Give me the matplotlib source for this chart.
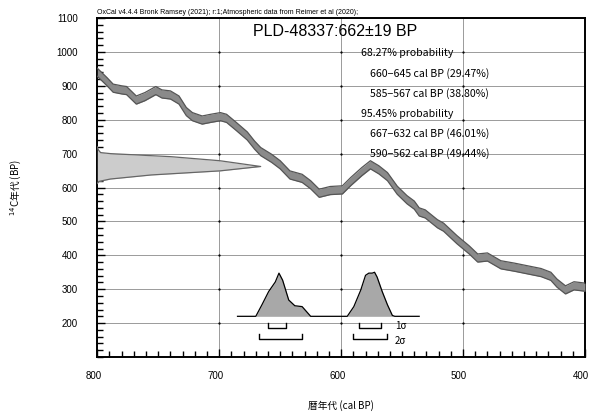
import matplotlib.pyplot as plt
import matplotlib.transforms as mtransforms
from matplotlib.ticker import MultipleLocator

# calibration curve (cal BP -> 14C BP)
curve_cal = [800, 792, 787, 780, 776, 768, 761, 752, 747, 740, 733, 727, 722, 714, 707,
             699, 694, 686, 677, 671, 666, 657, 650, 642, 632, 625, 618, 609, 599, 592,
             583, 576, 569, 562, 554, 546, 540, 536, 531, 521, 516, 505, 495, 488, 480,
             469, 458, 447, 436, 428, 423, 416, 409, 400]
curve_c14 = [940, 912, 893, 888, 886, 858, 868, 886, 876, 873, 858, 824, 809, 799, 804,
             809, 804, 780, 752, 725, 706, 686, 667, 637, 627, 608, 583, 591, 593, 618,
             647, 667, 652, 632, 592, 564, 548, 528, 522, 493, 483, 446, 416, 392, 395,
             372, 365, 357, 349, 338, 318, 298, 310, 306]
curve_err = 12

# radiocarbon date (14C BP) and relative density
r_c14 = [612, 618, 625, 637, 649, 662, 679, 691, 700, 703, 712, 720]
r_dens = [0, 0.01, 0.08, 0.33, 0.75, 1.0, 0.75, 0.45, 0.08, 0.02, 0.005, 0]

# calibrated distribution (cal BP) and relative density
p_cal = [685, 670, 665, 659.5, 654, 651, 648, 643, 638, 632, 628.5, 625,
         595, 589.6, 584, 580, 577.3, 574.5, 572.6, 570.5, 566.3, 562, 558, 556, 536]
p_dens = [0, 0, 0.26, 0.56, 0.78, 0.98, 0.82, 0.37, 0.24, 0.22, 0.11, 0,
          0, 0.22, 0.59, 0.93, 0.98, 0.98, 1.0, 0.89, 0.56, 0.26, 0.02, 0, 0]

sigma1 = [(660, 645), (585, 567)]
sigma2 = [(667, 632), (590, 562)]

title = "PLD-48337:662\u00b119 BP"
prob_heads = ["68.27% probability", "95.45% probability"]
prob_ranges = [["660\u2212645 cal BP (29.47%)", "585\u2212567 cal BP (38.80%)"],
               ["667\u2212632 cal BP (46.01%)", "590\u2212562 cal BP (49.44%)"]]

jp = ['Noto Sans CJK JP', 'DejaVu Sans']
plt.rcParams['font.family'] = ['Liberation Sans', 'DejaVu Sans']

fig = plt.figure(figsize=(5.89, 4.17), dpi=100)
ax = fig.add_axes([0.1652, 0.1439, 0.8280, 0.8129])

ax.set_xlim(800, 400)
ax.set_ylim(100, 1100)
ax.set_xticks([800, 700, 600, 500, 400])
ax.set_yticks(range(200, 1101, 100))
ax.xaxis.set_minor_locator(MultipleLocator(10))
ax.yaxis.set_minor_locator(MultipleLocator(20))
ax.tick_params(which='both', direction='in', labelsize=7, color='black')
ax.tick_params(which='major', length=6, width=1)
ax.tick_params(which='minor', length=4, width=1)
ax.tick_params(axis='y', pad=14)
ax.tick_params(axis='x', pad=10)
ax.grid(True, which='major', color='#9a9a9a', lw=0.7)
for s in ax.spines.values():
    s.set_linewidth(1.4)

# shift x tick labels a little left, like the original
off = mtransforms.ScaledTranslation(-4 / 100, 0, fig.dpi_scale_trans)
for lab in ax.get_xticklabels():
    lab.set_transform(lab.get_transform() + off)

# dots at grid crossings
gx = [700, 600, 500]
gy = list(range(200, 1001, 100))
ax.scatter([x for x in gx for _ in gy], [y for _ in gx for y in gy], s=0.4,
           color='black', zorder=2)

# calibration curve band
lo = [c - curve_err for c in curve_c14]
hi = [c + curve_err for c in curve_c14]
ax.fill_between(curve_cal, lo, hi, color='#8a8a8a', lw=0, zorder=3)
ax.plot(curve_cal, lo, color='#555555', lw=0.9, zorder=4)
ax.plot(curve_cal, hi, color='#555555', lw=0.9, zorder=4)

# radiocarbon date on the y axis
r_x = [800 - d * 134 for d in r_dens]
ax.fill_betweenx(r_c14, r_x, 800, color='#cccccc', lw=0, zorder=3)
ax.plot(r_x, r_c14, color='#666666', lw=0.9, zorder=4)

# calibrated distribution
base = 220
p_y = [base + d * 130 for d in p_dens]
ax.fill_between(p_cal, base, p_y, color='#a8a8a8', lw=0, zorder=3)
ax.plot(p_cal, p_y, color='black', lw=0.9, zorder=4)

# range brackets
for (a, b), y in [(r, 185) for r in sigma1] + [(r, 154) for r in sigma2]:
    ax.plot([a, a, b, b], [y + 14, y, y, y + 14], color='black', lw=1.0, zorder=4)
ax.text(556, 192, "1\u03c3", fontsize=7, family=jp, va='center', ha='left')
ax.text(556, 148, "2\u03c3", fontsize=7, family=jp, va='center', ha='left')

# texts
fig.text(0.1652, 0.962, "OxCal v4.4.4 Bronk Ramsey (2021); r:1;Atmospheric data from Reimer et al (2020);",
         fontsize=5.0, ha='left', va='bottom')
fig.text(253 / 589, 1 - 31 / 417, title, fontsize=11.5, ha='left', va='center')
row = 0
for head, ranges in zip(prob_heads, prob_ranges):
    fig.text(361 / 589, 1 - (53 + 20.2 * row) / 417, head, fontsize=7.6,
             family=jp, ha='left', va='center')
    row += 1
    for r in ranges:
        fig.text(370 / 589, 1 - (53 + 20.2 * row) / 417, r, fontsize=7.6,
                 family=jp, ha='left', va='center')
        row += 1

ax.set_xlabel("暦年代 (cal BP)", fontsize=7, family=jp, labelpad=14)
ax.set_ylabel("$^{14}$C年代 (BP)", fontsize=7, family=jp, labelpad=23)

fig.savefig("out.png", dpi=100)
